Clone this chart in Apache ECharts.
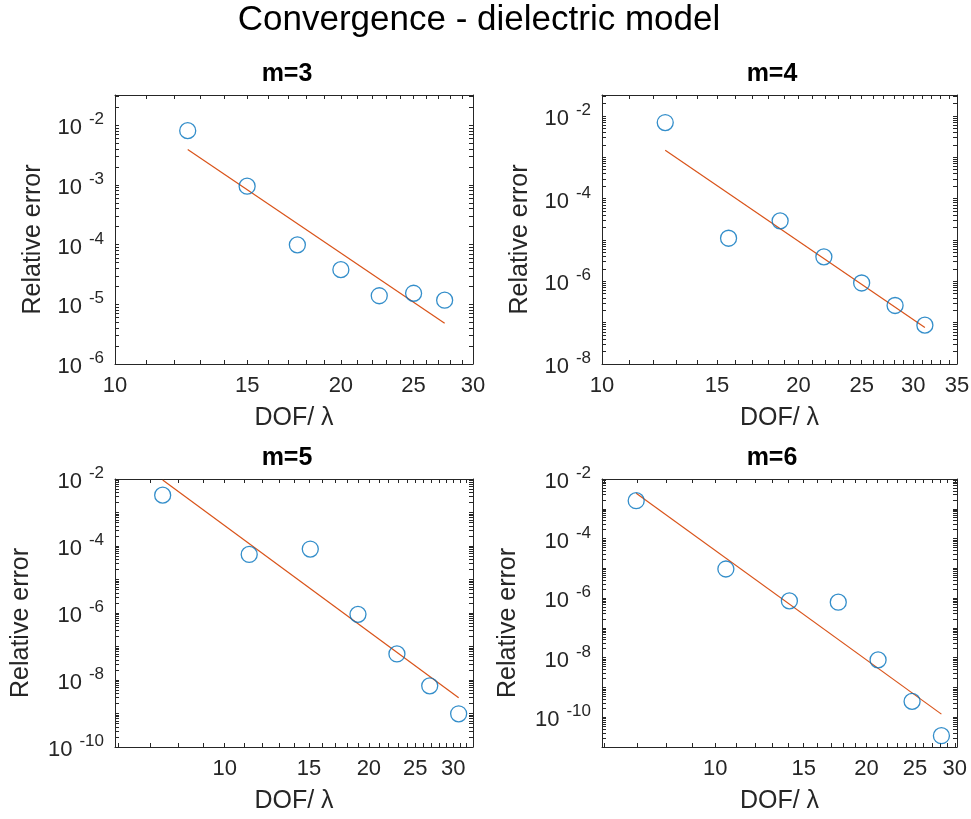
<!DOCTYPE html>
<html lang="en">
<head>
  <meta charset="UTF-8">
  <title>Convergence - dielectric model</title>
  <style>html, body { margin: 0; padding: 0; background: #fff; }</style>
</head>
<body>
  <div id="main" style="width: 971px;height:819px;"></div>
  <script src="https://cdn.jsdelivr.net/npm/echarts@6/dist/echarts.min.js"></script>
  <script type="text/javascript">
    // values, one set per panel
    var titles = ['m=3', 'm=4', 'm=5', 'm=6'];

    var dofM3 = [12.5, 15, 17.5, 20, 22.5, 25, 27.5];
    var errM3 = [8.1e-3, 9.5e-4, 9.9e-5, 3.8e-5, 1.39e-5, 1.53e-5, 1.17e-5];
    var fitDofM3 = [12.5, 27.5];
    var fitErrM3 = [3.9e-3, 4.8e-6];

    var dofM4 = [12.5, 15.63, 18.75, 21.88, 25, 28.13, 31.25];
    var errM4 = [6.9e-3, 1.1e-5, 2.9e-5, 3.9e-6, 9.1e-7, 2.6e-7, 8.7e-8];
    var fitDofM4 = [12.5, 31.25];
    var fitErrM4 = [1.48e-3, 7.6e-8];

    var dofM5 = [7.42, 11.25, 15.09, 18.98, 22.89, 26.8, 30.8];
    var errM5 = [3.3e-3, 5.6e-5, 8.1e-5, 9.1e-7, 6.0e-8, 6.7e-9, 9.8e-10];
    var fitDofM5 = [7.42, 30.8];
    var fitErrM5 = [9.3e-3, 2.95e-9];

    var dofM6 = [6.96, 10.5, 14.05, 17.58, 21.1, 24.66, 28.21];
    var errM6 = [1.87e-3, 9.5e-6, 8.05e-7, 7.3e-7, 8.4e-9, 3.4e-10, 2.4e-11];
    var fitDofM6 = [6.96, 28.21];
    var fitErrM6 = [3.3e-3, 1.27e-10];

    // axis ranges and labelled ticks
    var xMin = [10, 10, 5.9, 5.95];
    var xMax = [30, 35, 33, 30.3];
    var yMin = [1e-6, 1e-8, 1e-10, 1e-11];
    var yMax = [0.032, 0.032, 0.01, 0.01];
    var xLabels = [
      [10, 15, 20, 25, 30],
      [10, 15, 20, 25, 30, 35],
      [10, 15, 20, 25, 30],
      [10, 15, 20, 25, 30]
    ];
    var yLabels = [
      [1e-6, 1e-5, 1e-4, 1e-3, 1e-2],
      [1e-8, 1e-6, 1e-4, 1e-2],
      [1e-10, 1e-8, 1e-6, 1e-4, 1e-2],
      [1e-10, 1e-8, 1e-6, 1e-4, 1e-2]
    ];

    var dofs = [dofM3, dofM4, dofM5, dofM6];
    var errs = [errM3, errM4, errM5, errM6];
    var fitDofs = [fitDofM3, fitDofM4, fitDofM5, fitDofM6];
    var fitErrs = [fitErrM3, fitErrM4, fitErrM5, fitErrM6];

    var grids = [
      { left: 115, top: 95, width: 358, height: 269 },
      { left: 602, top: 95, width: 355, height: 269 },
      { left: 115, top: 479, width: 358, height: 268 },
      { left: 602, top: 479, width: 355, height: 268 }
    ];
    var titlePos = [[287, 62], [772, 62], [287, 446], [772, 446]];
    var yNameGap = [69, 69, 81, 81];

    var axisColor = '#262626';

    function xTicks(min, max) {
      var res = [];
      for (var v = Math.ceil(min); v <= max; v++) res.push(v);
      return res;
    }

    function yTicks(min, max) {
      var res = [];
      for (var p = -12; p <= 0; p++) {
        for (var k = 1; k <= 9; k++) {
          var v = parseFloat((k * Math.pow(10, p)).toPrecision(6));
          if (v >= min * 0.999 && v <= max) res.push(v);
        }
      }
      return res;
    }

    function yLabel(v) {
      var p = Math.round(Math.log10(v));
      return '{s| }{b|10}{e|' + p + '}';
    }

    var myChart = echarts.init(document.getElementById('main'));

    var option = {
      backgroundColor: '#fff',
      animation: false,
      title: [{
        text: 'Convergence - dielectric model',
        left: 479,
        top: 3,
        padding: 0,
        textAlign: 'center',
        textStyle: { fontSize: 35, fontWeight: 'normal', color: '#000', fontFamily: 'Liberation Sans' }
      }],
      grid: [],
      xAxis: [],
      yAxis: [],
      series: []
    };

    for (var i = 0; i < 4; i++) {
      option.title.push({
        text: titles[i],
        left: titlePos[i][0],
        top: titlePos[i][1],
        padding: 0,
        textAlign: 'center',
        textStyle: { fontSize: 25, fontWeight: 'bold', color: '#000', fontFamily: 'Liberation Sans' }
      });

      var g = grids[i];
      option.grid.push({
        left: g.left, top: g.top, width: g.width, height: g.height,
        containLabel: false, outerBoundsMode: 'none'
      });

      var xt = xTicks(xMin[i], xMax[i]);
      var yt = yTicks(yMin[i], yMax[i]);
      var lineStyle = { color: axisColor, width: 1 };

      // bottom axis with labels and name
      option.xAxis.push({
        type: 'log', gridIndex: i, position: 'bottom',
        min: xMin[i], max: xMax[i],
        name: 'DOF/ λ', nameLocation: 'middle', nameGap: 42,
        nameTextStyle: { fontSize: 25, color: axisColor, fontFamily: 'Liberation Sans' },
        axisLine: { show: true, onZero: false, lineStyle: lineStyle },
        axisTick: { show: true, inside: true, length: 4, customValues: xt, lineStyle: lineStyle },
        axisLabel: {
          show: true, customValues: xLabels[i], margin: 11,
          fontSize: 22, color: axisColor, fontFamily: 'Liberation Sans'
        },
        splitLine: { show: false }
      });
      // top axis: only the box edge and ticks
      option.xAxis.push({
        type: 'log', gridIndex: i, position: 'top',
        min: xMin[i], max: xMax[i],
        axisLine: { show: true, onZero: false, lineStyle: lineStyle },
        axisTick: { show: true, inside: true, length: 4, customValues: xt, lineStyle: lineStyle },
        axisLabel: { show: false },
        splitLine: { show: false }
      });

      option.yAxis.push({
        type: 'log', gridIndex: i, position: 'left',
        min: yMin[i], max: yMax[i],
        name: 'Relative error', nameLocation: 'middle', nameRotate: 90, nameGap: yNameGap[i],
        nameTextStyle: { fontSize: 25, color: axisColor, fontFamily: 'Liberation Sans', padding: [0, 20, 0, 0] },
        axisLine: { show: true, onZero: false, lineStyle: lineStyle },
        axisTick: { show: true, inside: true, length: 4, customValues: yt, lineStyle: lineStyle },
        axisLabel: {
          show: true, customValues: yLabels[i], margin: 11,
          formatter: yLabel,
          color: axisColor, fontFamily: 'Liberation Sans',
          rich: {
            s: { fontSize: 1, lineHeight: 28 },
            b: { fontSize: 22, lineHeight: 22, verticalAlign: 'bottom', color: axisColor },
            e: { fontSize: 17, lineHeight: 17, verticalAlign: 'top', padding: [0, 0, 0, 7], color: axisColor }
          }
        },
        splitLine: { show: false }
      });
      option.yAxis.push({
        type: 'log', gridIndex: i, position: 'right',
        min: yMin[i], max: yMax[i],
        axisLine: { show: true, onZero: false, lineStyle: lineStyle },
        axisTick: { show: true, inside: true, length: 4, customValues: yt, lineStyle: lineStyle },
        axisLabel: { show: false },
        splitLine: { show: false }
      });

      // fitted line
      option.series.push({
        type: 'line',
        xAxisIndex: 2 * i, yAxisIndex: 2 * i,
        data: fitDofs[i].map(function (d, k) { return [d, this[k]]; }, fitErrs[i]),
        showSymbol: false,
        lineStyle: { color: '#D95319', width: 1.2 },
        z: 2
      });
      // measured errors
      option.series.push({
        type: 'scatter',
        xAxisIndex: 2 * i, yAxisIndex: 2 * i,
        data: dofs[i].map(function (d, k) { return [d, this[k]]; }, errs[i]),
        symbol: 'circle',
        symbolSize: 16,
        itemStyle: { color: 'rgba(0,0,0,0)', borderColor: '#0072BD', borderWidth: 1.3 },
        z: 3
      });
    }

    myChart.setOption(option);
  </script>
</body>
</html>
